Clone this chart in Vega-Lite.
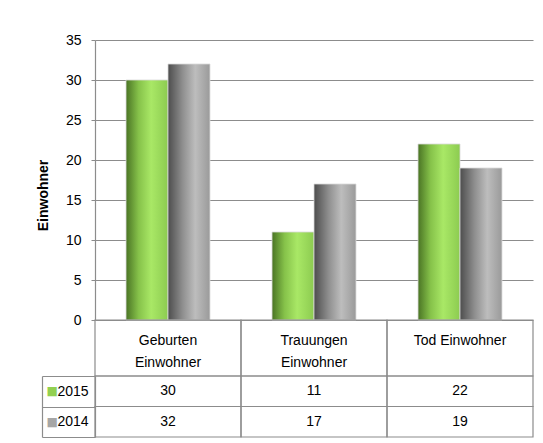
{
  "$schema": "https://vega.github.io/schema/vega-lite/v6.json",
  "padding": {"left": 36, "top": 33, "right": 5, "bottom": 5},
  "background": "white",
  "datasets": {
    "bars": [
      {"cat": "Geburten Einwohner", "year": "2015", "value": 30},
      {"cat": "Geburten Einwohner", "year": "2014", "value": 32},
      {"cat": "Trauungen Einwohner", "year": "2015", "value": 11},
      {"cat": "Trauungen Einwohner", "year": "2014", "value": 17},
      {"cat": "Tod Einwohner", "year": "2015", "value": 22},
      {"cat": "Tod Einwohner", "year": "2014", "value": 19}
    ],
    "header": [
      {"cat": "Geburten Einwohner", "label": "Geburten\nEinwohner"},
      {"cat": "Trauungen Einwohner", "label": "Trauungen\nEinwohner"},
      {"cat": "Tod Einwohner", "label": "Tod Einwohner"}
    ]
  },
  "vconcat": [
    {
      "width": 438,
      "height": 280,
      "data": {"name": "bars"},
      "encoding": {
        "x": {"field": "cat", "type": "nominal", "sort": ["Geburten Einwohner", "Trauungen Einwohner", "Tod Einwohner"],
              "scale": {"paddingInner": 0.425, "paddingOuter": 0.2125}, "axis": null},
        "xOffset": {"field": "year", "type": "nominal", "scale": {"domain": ["2015", "2014"], "paddingInner": 0, "paddingOuter": 0}},
        "y": {"field": "value", "type": "quantitative",
              "scale": {"domain": [0, 35], "nice": false},
              "axis": {"values": [0, 5, 10, 15, 20, 25, 30, 35], "grid": true, "gridColor": "#8c8c8c", "gridWidth": 1.2,
                       "domainColor": "#8c8c8c", "domainWidth": 1.2, "tickColor": "#8c8c8c", "tickSize": 4,
                       "labelFont": "Liberation Sans", "labelFontSize": 14, "labelColor": "#000", "labelPadding": 10,
                       "title": "Einwohner", "titleFont": "Liberation Sans", "titleFontSize": 14, "titleFontWeight": "bold",
                       "titleColor": "#000", "titlePadding": 15, "titleY": 155}}
      },
      "layer": [
        {
          "transform": [{"filter": "datum.year == '2015'"}],
          "mark": {"type": "bar", "stroke": "#d9d9d9", "strokeWidth": 0.8,
                   "color": {"gradient": "linear", "x1": 0, "x2": 1, "y1": 0, "y2": 0,
                             "stops": [{"offset": 0, "color": "#4a7424"}, {"offset": 0.3, "color": "#86c24a"},
                                       {"offset": 0.6, "color": "#a9e866"}, {"offset": 1, "color": "#8ccb50"}]}}
        },
        {
          "transform": [{"filter": "datum.year == '2014'"}],
          "mark": {"type": "bar", "stroke": "#d9d9d9", "strokeWidth": 0.8,
                   "color": {"gradient": "linear", "x1": 0, "x2": 1, "y1": 0, "y2": 0,
                             "stops": [{"offset": 0, "color": "#4d4d4d"}, {"offset": 0.35, "color": "#8f8f8f"},
                                       {"offset": 0.65, "color": "#bdbdbd"}, {"offset": 1, "color": "#9a9a9a"}]}}
        }
      ]
    },
    {
      "width": 438,
      "height": 56,
      "data": {"name": "header"},
      "encoding": {
        "x": {"field": "cat", "type": "nominal", "sort": ["Geburten Einwohner", "Trauungen Einwohner", "Tod Einwohner"],
              "scale": {"paddingInner": 0, "paddingOuter": 0}, "axis": null}
      },
      "layer": [
        {"mark": {"type": "rect", "fill": null, "stroke": "#8c8c8c", "strokeWidth": 1.2}},
        {"mark": {"type": "text", "lineBreak": "\n", "baseline": "top", "dy": -14, "lineHeight": 22,
                  "font": "Liberation Sans", "fontSize": 14, "color": "#000"},
         "encoding": {"text": {"field": "label"}}}
      ]
    },
    {
      "width": 438,
      "height": 61,
      "data": {"name": "bars"},
      "encoding": {
        "x": {"field": "cat", "type": "nominal", "sort": ["Geburten Einwohner", "Trauungen Einwohner", "Tod Einwohner"],
              "scale": {"paddingInner": 0, "paddingOuter": 0}, "axis": null},
        "y": {"field": "year", "type": "nominal", "sort": ["2015", "2014"], "scale": {"paddingInner": 0, "paddingOuter": 0}}
      },
      "layer": [
        {"mark": {"type": "rect", "fill": null, "stroke": "#8c8c8c", "strokeWidth": 1.2},
         "encoding": {"y": {"field": "year", "type": "nominal", "sort": ["2015", "2014"], "scale": {"paddingInner": 0, "paddingOuter": 0},
                            "axis": {"title": null, "orient": "left", "tickBand": "extent", "tickSize": 53, "tickColor": "#8c8c8c", "tickWidth": 1.2,
                                     "domainColor": "#8c8c8c", "domainWidth": 1.2, "labelAlign": "left", "labelPadding": -15,
                                     "labelFont": "Liberation Sans", "labelFontSize": 14, "labelColor": "#000"}}}},
        {"mark": {"type": "text", "font": "Liberation Sans", "fontSize": 14, "color": "#000"},
         "encoding": {"text": {"field": "value", "type": "quantitative"},
                      "y": {"field": "year", "type": "nominal", "sort": ["2015", "2014"],
                            "axis": {"title": null, "orient": "left", "offset": 53, "ticks": false, "domainColor": "#8c8c8c", "domainWidth": 1.2,
                                     "labelExpr": "'■'", "labelAlign": "left", "labelPadding": -4, "labelFont": "DejaVu Sans", "labelFontSize": 12,
                                     "labelColor": {"condition": {"test": "datum.value == '2015'", "value": "#92d050"}, "value": "#a6a6a6"}}}}}
      ],
      "resolve": {"axis": {"y": "independent"}}
    }
  ],
  "spacing": 0,
  "bounds": "flush",
  "resolve": {"scale": {"x": "independent"}},
  "config": {"view": {"stroke": null}}
}
